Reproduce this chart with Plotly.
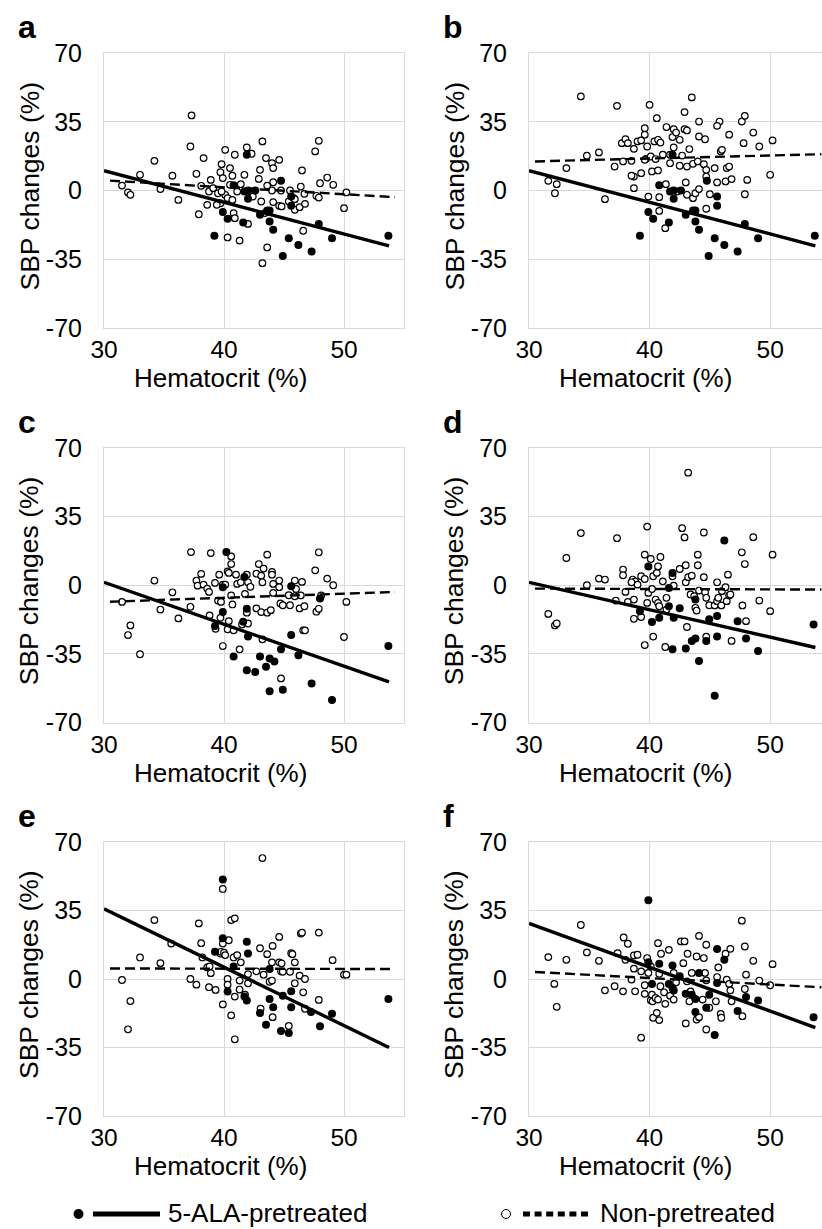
import plotly.graph_objects as go

# ---------------- data: (hematocrit %, SBP change %) ----------------
# Non-pretreated (open circles) and 5-ALA-pretreated (filled circles)

non_a = [(31.5, 2.5), (32.0, -1.0), (32.2, -2.2), (33.0, 8.0), (34.2, 15.1), (34.7, 0.7), (35.7, 7.5),
         (36.2, -4.8), (37.3, 38.2), (37.2, 22.4), (37.7, 8.5), (37.9, -12.1), (38.1, 2.4), (38.3, 16.5),
         (38.6, -7.3), (38.75, -0.5), (38.9, 5.4), (39.1, 1.2), (39.5, -1.4), (39.7, 9.3), (39.8, 13.4),
         (39.7, -6.5), (39.9, 6.3), (40.1, 20.7), (40.1, -2.2), (40.3, -3.9), (40.3, -23.9), (40.5, 11.4),
         (40.7, 7.5), (40.7, -4.8), (40.8, -11.5), (40.9, 18.2), (40.9, -14.1), (41.1, -0.5), (41.3, -25.5),
         (41.4, 3.2), (41.7, 8.0), (41.9, 21.9), (42.0, -17.0), (42.3, 18.7), (42.2, -0.5), (42.4, -3.1),
         (43.0, 10.5), (42.9, 5.9), (43.1, -5.6), (43.2, 25.0), (43.2, -37.0), (43.4, -11.5), (43.6, 2.5),
         (43.5, 16.5), (43.6, -29.0), (44.0, 0.0), (44.0, 13.9), (44.1, 11.4), (44.1, 4.2), (44.1, -5.9),
         (44.6, 15.6), (44.6, -7.8), (44.75, 0.0), (45.5, 0.0), (45.4, -5.6), (45.8, -3.9), (45.9, -9.8),
         (45.9, -4.4), (46.3, -8.5), (46.4, 2.0), (46.5, 10.2), (46.7, -1.7), (46.75, -6.8), (46.6, -20.5),
         (47.6, 19.9), (47.7, -2.7), (47.9, 25.3), (47.9, -3.6), (48.0, 3.7), (48.6, 6.6), (49.1, 2.9),
         (50.0, -9.0), (50.2, -1.0), (39.8, -0.5), (39.4, -7.3), (40.5, 2.9), (44.8, -8.1)]

pre_ab = [(41.9, 18.2), (40.8, 2.7), (41.7, -0.5), (42.0, 0.0), (42.6, 0.0), (42.0, -4.2), (44.75, 4.9),
          (45.6, -3.1), (45.6, -7.8), (39.9, -11.0), (40.3, -14.4), (41.6, -16.3), (43.0, -12.4),
          (43.6, -10.2), (43.8, -10.2), (43.8, -15.8), (44.1, -20.0), (39.2, -23.1), (45.4, -24.3),
          (46.2, -27.8), (47.3, -31.1), (44.9, -33.3), (47.9, -17.0), (49.0, -24.3), (53.7, -23.1)]

non_b = [(31.6, 4.9), (32.3, 3.2), (32.15, -1.4), (33.1, 11.4), (34.3, 47.9), (34.8, 17.7), (35.8, 19.4),
         (36.3, -4.4), (37.1, 12.2), (37.3, 43.1), (37.7, 24.1), (38.0, 26.1), (38.2, 24.1), (37.8, 14.8),
         (38.5, 15.1), (38.7, 21.2), (38.7, 7.1), (38.7, 1.2), (39.0, 25.0), (39.3, 8.8), (39.3, 25.5),
         (39.6, 31.7), (39.6, 28.4), (39.7, 16.1), (39.8, 22.4), (39.9, -3.1), (40.0, 43.6), (40.1, 17.3),
         (40.2, 9.7), (40.4, 25.0), (40.5, 16.0), (40.6, 36.8), (40.7, 25.8), (40.8, -3.4), (40.8, -10.4),
         (40.9, 24.4), (41.1, 18.2), (41.3, -19.2), (41.35, 3.2), (41.4, 32.3), (41.7, 18.2), (41.7, 13.9),
         (41.9, 27.2), (42.0, 31.2), (42.0, 21.9), (42.2, 29.5), (42.3, -0.5), (42.5, 12.6), (42.7, 17.8),
         (42.9, 39.9), (42.9, 31.2), (43.0, 4.1), (43.1, 12.2), (43.1, 30.6), (43.1, -2.2), (43.3, 21.1),
         (43.5, 47.4), (43.6, -3.9), (43.6, 13.6), (43.8, -1.4), (44.0, 14.8), (44.1, 27.5), (44.1, 35.1),
         (44.1, 0.7), (44.5, 13.4), (44.6, 26.1), (44.7, 10.5), (44.7, 7.1), (44.7, -9.3), (45.0, -1.9),
         (45.4, 11.4), (45.6, 4.1), (45.8, 35.1), (45.6, 32.9), (45.9, 19.9), (46.0, 20.7), (46.3, 4.6),
         (46.4, 11.4), (46.6, 12.2), (46.6, 28.4), (46.8, 5.8), (47.65, 35.1), (47.8, 24.1), (47.9, 38.0),
         (47.9, -1.9), (48.1, 5.4), (48.6, 29.5), (49.1, 22.4), (50.0, 8.0), (50.2, 25.5), (38.5, 7.5),
         (42.5, 25.8), (39.6, 15.6), (40.7, 10.2)]

non_c = [(31.5, -8.5), (32.2, -20.5), (32.0, -25.4), (33.0, -35.2), (34.2, 2.4), (34.7, -12.4), (35.7, -3.6),
         (36.2, -16.9), (37.25, 16.9), (37.2, -11.0), (37.7, 2.4), (37.8, -0.2), (38.1, 5.8), (38.3, 0.3),
         (38.6, -1.7), (38.75, -3.4), (38.8, -15.4), (38.9, 16.4), (39.25, 1.2), (39.3, -22.2), (39.5, -7.8),
         (39.6, 5.4), (39.7, -16.6), (39.75, -8.5), (39.9, -31.0), (39.9, 0.3), (40.1, 0.3), (40.3, 7.1),
         (40.3, -22.5), (40.4, -18.3), (40.4, 6.3), (40.6, 14.7), (40.6, 10.8), (40.6, -5.2), (40.7, -9.8),
         (40.8, -23.0), (41.0, 5.4), (41.1, 0.7), (41.3, -32.7), (41.4, 1.5), (41.5, -20.0), (41.75, -4.4),
         (41.9, 5.4), (42.0, -19.5), (42.0, 1.5), (42.2, -0.8), (42.7, 5.9), (42.7, -11.8), (42.9, 10.8),
         (43.1, 4.9), (43.1, -13.7), (43.2, 1.5), (43.2, -27.6), (43.3, 8.5), (43.6, 15.6), (43.6, -14.0),
         (43.9, -12.7), (44.0, 6.8), (44.0, 5.4), (44.1, 0.7), (44.1, -3.9), (44.6, 2.4), (44.6, -1.0),
         (44.7, -9.3), (44.75, -47.5), (44.9, -10.2), (45.5, -10.2), (45.9, 2.4), (45.9, -5.6), (46.0, -1.9),
         (46.3, -11.8), (46.4, -5.2), (46.5, 1.7), (46.6, -23.0), (46.75, -23.0), (46.7, -10.7), (47.6, 7.6),
         (47.7, -13.5), (47.9, 16.8), (47.9, -12.0), (48.1, -5.2), (48.6, 3.4), (49.1, 0.0), (50.0, -26.4),
         (50.2, -8.5), (45.4, -5.1), (41.9, -14.0)]

pre_c = [(40.2, 16.9), (41.7, 4.2), (39.9, -1.0), (45.6, -0.5), (48.0, -6.8), (41.9, -12.0), (39.9, -13.7),
         (41.6, -18.6), (39.25, -20.8), (42.0, -26.2), (45.6, -25.4), (40.8, -36.4), (43.0, -36.4),
         (43.8, -37.4), (44.2, -38.9), (43.5, -41.6), (44.75, -32.7), (46.2, -35.7), (41.9, -43.3),
         (42.6, -44.2), (43.8, -54.1), (44.9, -53.3), (47.3, -50.1), (49.0, -58.5), (53.7, -31.0)]

non_d = [(31.6, -14.6), (32.15, -20.5), (32.3, -19.5), (33.1, 13.9), (34.3, 26.6), (34.8, 0.0), (35.8, 3.4),
         (36.3, 2.9), (37.3, 24.0), (37.2, -7.8), (37.8, 8.0), (37.8, 5.1), (38.0, -3.4), (38.2, -8.5),
         (38.6, 2.9), (38.7, -7.3), (38.7, -17.1), (38.8, 2.0), (39.0, 0.3), (39.3, 4.6), (39.3, -16.2),
         (39.6, 3.2), (39.6, 15.6), (39.6, -30.5), (39.8, -9.0), (39.8, 29.9), (39.9, -3.9), (40.1, 13.4),
         (40.2, -1.9), (40.3, 4.6), (40.3, -26.2), (40.5, -7.3), (40.6, 6.3), (40.7, 9.6), (40.7, -9.0),
         (40.8, -10.7), (40.9, 14.4), (41.1, 2.0), (41.3, -31.5), (41.4, -6.4), (41.4, -12.4), (41.9, 4.6),
         (42.0, -0.2), (42.5, 8.3), (42.7, 29.1), (42.9, 24.4), (43.0, 10.2), (43.0, 1.5), (43.1, -21.3),
         (43.2, 57.4), (43.2, 4.1), (43.4, -4.7), (43.5, 4.9), (43.7, -5.6), (43.8, -11.5), (43.9, -12.9),
         (44.0, 15.6), (44.0, 10.2), (44.1, -2.7), (44.5, 26.9), (44.5, 4.1), (44.6, -3.6), (44.7, -6.4),
         (44.7, -26.2), (44.95, -10.2), (45.4, -10.3), (45.6, 1.5), (45.6, -8.1), (45.7, -6.4), (45.95, -10.3),
         (46.0, -3.0), (46.3, -1.0), (46.4, -8.1), (46.5, 5.4), (46.6, -5.2), (46.7, -4.7), (46.8, -28.4),
         (47.65, 16.8), (47.7, -10.3), (47.9, 10.8), (48.0, -18.3), (48.6, 24.5), (49.1, -7.8), (50.0, -13.2),
         (50.2, 15.6), (38.5, 1.5)]

pre_d = [(39.9, 9.6), (41.9, 6.3), (41.6, -1.4), (43.8, -7.3), (39.2, -13.2), (40.2, -18.8), (40.8, -16.6),
         (41.6, -10.7), (42.5, -11.7), (42.0, -16.6), (44.95, -17.4), (45.6, -15.7), (47.3, -18.3),
         (46.2, 22.8), (43.8, -27.2), (43.5, -28.4), (44.7, -28.4), (45.6, -26.2), (48.0, -27.2),
         (41.9, -32.7), (43.0, -32.3), (49.0, -33.5), (44.1, -38.6), (45.4, -56.3), (53.6, -20.0)]

non_e = [(31.5, -0.5), (32.2, -11.3), (32.0, -25.7), (33.0, 11.0), (34.2, 30.1), (34.7, 8.1), (35.6, 18.1),
         (37.2, 0.0), (37.7, -2.9), (37.9, 28.4), (38.1, 18.3), (38.2, 11.0), (38.6, 5.9), (38.75, -4.2),
         (38.8, 6.4), (38.9, 3.0), (39.3, -5.6), (39.7, 13.0), (39.75, 13.9), (39.9, 46.0), (39.9, 18.1),
         (39.9, -13.0), (40.0, 13.5), (40.1, 12.2), (40.3, 0.0), (40.3, -2.9), (40.4, 19.8), (40.6, 30.1),
         (40.6, -18.6), (40.8, 11.0), (40.9, -30.8), (40.9, 31.0), (40.9, -9.0), (41.1, 12.2), (41.3, -0.8),
         (41.3, -5.4), (41.4, 8.5), (41.75, -8.0), (42.0, 2.5), (42.0, -2.2), (42.7, 3.9), (43.0, 15.7),
         (43.05, -15.2), (43.2, 61.8), (43.3, 2.2), (43.6, 12.7), (43.8, -1.4), (44.0, -0.8), (44.05, 16.9),
         (44.0, 8.5), (44.05, -19.5), (44.6, 21.5), (44.6, 8.5), (44.75, 3.9), (44.9, 3.7), (44.8, 8.0),
         (45.4, -24.0), (45.5, 3.7), (45.6, 13.2), (45.7, 12.7), (45.9, 8.5), (45.9, -2.2), (46.4, 23.2),
         (46.5, 23.7), (46.3, 1.7), (46.6, -6.8), (46.75, 0.0), (46.75, -15.2), (47.9, 23.7), (47.9, -10.7),
         (49.05, 9.6), (50.0, 2.2), (50.2, 2.2)]

pre_e = [(39.9, 50.8), (39.9, 20.8), (39.25, 13.9), (41.9, 19.0), (42.0, 13.0), (40.8, 6.4), (43.8, 5.1),
         (40.3, -6.4), (41.7, -9.0), (41.9, -11.0), (43.8, -10.2), (43.0, -17.4), (44.1, -14.4),
         (43.5, -23.4), (44.9, -8.5), (45.6, -6.3), (45.6, -14.4), (44.75, -26.6), (45.4, -27.6),
         (47.25, -16.9), (48.0, -24.2), (49.0, -17.8), (53.7, -10.2)]

non_f = [(31.6, 11.2), (32.1, -2.5), (32.3, -14.2), (33.1, 9.8), (34.3, 27.6), (34.8, 13.6), (35.8, 9.3),
         (36.3, -5.8), (37.1, -3.7), (37.35, 13.2), (37.8, -6.3), (37.85, 21.2), (38.0, 9.8), (38.2, 18.0),
         (38.5, -0.3), (38.7, 12.0), (38.7, 5.3), (38.8, -6.3), (39.0, 12.4), (39.3, 3.9), (39.3, -30.0),
         (39.6, -3.2), (39.6, -7.6), (39.8, 10.7), (39.9, 3.1), (40.1, 6.4), (40.1, -10.8), (40.2, -8.0),
         (40.25, -11.4), (40.3, -19.8), (40.5, -9.7), (40.6, -17.3), (40.7, -10.5), (40.7, 18.3), (40.8, 2.7),
         (40.8, -21.0), (40.9, -3.7), (40.95, 12.9), (41.2, -6.8), (41.3, -12.7), (41.6, 14.9), (41.7, -8.5),
         (42.0, -10.5), (42.0, 3.1), (42.2, -1.7), (42.6, 19.2), (42.8, 8.1), (42.9, 19.2), (43.0, -22.7),
         (43.1, -1.2), (43.15, 12.9), (43.3, -11.4), (43.4, -6.3), (43.5, 3.1), (43.9, 11.5), (43.9, -20.7),
         (44.1, 22.0), (44.1, -19.5), (44.4, -10.5), (44.5, 10.7), (44.6, 3.1), (44.7, 17.5), (44.7, -25.8),
         (44.7, -0.7), (44.95, -14.7), (45.5, -11.4), (45.6, 1.0), (45.7, 5.9), (45.9, -17.8), (45.95, -19.8),
         (46.3, 12.9), (46.4, -0.3), (46.6, -2.5), (46.7, -5.8), (46.7, 15.4), (46.8, -11.4), (47.65, 29.8),
         (47.7, -19.0), (47.9, 16.6), (48.0, 2.2), (47.9, -5.1), (48.6, 9.3), (49.1, -0.8), (50.0, -3.2),
         (50.2, 7.6)]

pre_f = [(39.9, 40.3), (45.6, 15.3), (46.2, 9.8), (39.9, 8.5), (40.8, 7.8), (41.9, 6.9), (44.1, 3.1),
         (42.5, 1.4), (40.2, -2.5), (41.6, -2.5), (41.9, -4.6), (42.0, -5.9), (45.6, -2.0), (43.0, -7.5),
         (43.5, -8.0), (43.8, -10.2), (44.95, -8.0), (44.7, -14.7), (48.0, -9.2), (49.0, -11.0),
         (43.8, -16.8), (47.3, -16.4), (45.4, -28.6), (53.6, -19.5)]

panel_labels = ["a", "b", "c", "d", "e", "f"]
non_sets = [non_a, non_b, non_c, non_d, non_e, non_f]
pre_sets = [pre_ab, pre_ab, pre_c, pre_d, pre_e, pre_f]

# linear trend lines: SBP = intercept + slope * Hct
pre_slope = [-1.61, -1.61, -2.14, -1.40, -2.985, -2.24]
pre_intercept = [58.4, 58.4, 65.7, 43.5, 125.45, 95.6]
non_slope = [-0.354, 0.155, 0.21, -0.021, -0.0126, -0.33]
non_intercept = [15.8, 10.07, -14.8, -1.06, 5.78, 13.67]
pre_span = [30.0, 53.75]
non_span = [30.5, 54.25]

x_ticks = [30, 40, 50]
y_ticks = [70, 35, 0, -35, -70]
x_title = "Hematocrit (%)"
y_title = "SBP changes (%)"
legend_labels = ["5-ALA-pretreated", "Non-pretreated"]

# ---------------- layout geometry (pixels) ----------------
W, H = 822, 1229
FONT = "Liberation Sans, Arial, sans-serif"
GRID = "#d9d9d9"
col_px = [(104, 404, 55.0), (529, 822, 54.3)]
row_px = [(53, 328), (448, 722.5), (842, 1116)]


def px_x(px):
    return px / W


def px_y(py):
    return 1 - py / H


fig = go.Figure()
layout = dict(
    template="none",
    width=W, height=H, margin=dict(l=0, r=0, t=0, b=0, pad=0, autoexpand=False),
    paper_bgcolor="white", plot_bgcolor="white", showlegend=False,
    font=dict(family=FONT, color="black"),
)
annotations = []
shapes = []

for i, lab in enumerate(panel_labels):
    r, c = divmod(i, 2)
    n = i + 1
    xs = "" if n == 1 else str(n)
    x0p, x1p, xmax = col_px[c]
    y0p, y1p = row_px[r]

    layout["xaxis" + xs] = dict(
        domain=[px_x(x0p), px_x(x1p)], range=[30, xmax], anchor="y" + xs,
        tickvals=x_ticks, ticktext=[str(v) for v in x_ticks],
        showgrid=True, gridcolor=GRID, gridwidth=1,
        showline=True, linecolor=GRID, linewidth=1, mirror=True,
        zeroline=False, ticks="", ticklabelstandoff=0, automargin=False,
        tickfont=dict(family=FONT, size=24.5, color="black"),
    )
    layout["yaxis" + xs] = dict(
        domain=[px_y(y1p), px_y(y0p)], range=[-70, 70], anchor="x" + xs,
        tickvals=y_ticks, ticktext=[str(v) for v in y_ticks],
        showgrid=True, gridcolor=GRID, gridwidth=1,
        showline=True, linecolor=GRID, linewidth=1, mirror=(c == 0),
        zeroline=False, ticks="", ticklabelstandoff=16, automargin=False,
        tickfont=dict(family=FONT, size=25, color="black"),
    )

    nx = [p[0] for p in non_sets[i]]
    ny = [p[1] for p in non_sets[i]]
    px_ = [p[0] for p in pre_sets[i]]
    py_ = [p[1] for p in pre_sets[i]]

    fig.add_trace(go.Scatter(
        x=nx, y=ny, mode="markers", xaxis="x" + xs, yaxis="y" + xs,
        marker=dict(symbol="circle", size=6.6, color="white",
                    line=dict(color="black", width=1.2)),
        hoverinfo="skip"))
    fig.add_trace(go.Scatter(
        x=px_, y=py_, mode="markers", xaxis="x" + xs, yaxis="y" + xs,
        marker=dict(symbol="circle", size=8, color="black", line=dict(width=0)),
        hoverinfo="skip"))

    # trend lines
    fig.add_trace(go.Scatter(
        x=non_span, y=[non_intercept[i] + non_slope[i] * v for v in non_span],
        mode="lines", xaxis="x" + xs, yaxis="y" + xs,
        line=dict(color="black", width=2.4, dash="10px,5px"), hoverinfo="skip"))
    fig.add_trace(go.Scatter(
        x=pre_span, y=[pre_intercept[i] + pre_slope[i] * v for v in pre_span],
        mode="lines", xaxis="x" + xs, yaxis="y" + xs,
        line=dict(color="black", width=3.4), hoverinfo="skip"))

    dom_x = "x" + xs + " domain"
    dom_y = "y" + xs + " domain"
    # panel letter
    annotations.append(dict(
        text="<b>%s</b>" % lab, xref=dom_x, yref=dom_y, x=0, y=1,
        xanchor="left", yanchor="bottom", xshift=-88, yshift=6, showarrow=False,
        font=dict(family=FONT, size=32, color="black")))
    # axis titles
    annotations.append(dict(
        text=y_title, xref=dom_x, yref=dom_y, x=0, y=0.5, textangle=-90,
        xanchor="center", yanchor="middle", xshift=-75, yshift=4, showarrow=False,
        font=dict(family=FONT, size=26.5, color="black")))
    annotations.append(dict(
        text=x_title, xref=dom_x, yref=dom_y, x=0, y=0,
        xanchor="left", yanchor="middle", xshift=28, yshift=-50, showarrow=False,
        font=dict(family=FONT, size=26, color="black")))

# ---------------- legend ----------------
leg_y = 1214
# 5-ALA-pretreated
shapes.append(dict(type="circle", xref="paper", yref="paper",
                   x0=px_x(73.5), x1=px_x(83.5), y0=px_y(leg_y + 5), y1=px_y(leg_y - 5),
                   fillcolor="black", line=dict(color="black", width=0)))
shapes.append(dict(type="line", xref="paper", yref="paper",
                   x0=px_x(93), x1=px_x(160), y0=px_y(leg_y), y1=px_y(leg_y),
                   line=dict(color="black", width=5)))
annotations.append(dict(text=legend_labels[0], xref="paper", yref="paper",
                        x=px_x(166), y=px_y(leg_y - 1), xanchor="left", yanchor="middle",
                        showarrow=False, font=dict(family=FONT, size=26, color="black")))
# Non-pretreated
shapes.append(dict(type="circle", xref="paper", yref="paper",
                   x0=px_x(501.5), x1=px_x(510.5), y0=px_y(leg_y + 4.5), y1=px_y(leg_y - 4.5),
                   fillcolor="white", line=dict(color="black", width=1)))
shapes.append(dict(type="line", xref="paper", yref="paper",
                   x0=px_x(523), x1=px_x(591), y0=px_y(leg_y), y1=px_y(leg_y),
                   line=dict(color="black", width=5, dash="7px,4.6px")))
annotations.append(dict(text=legend_labels[1], xref="paper", yref="paper",
                        x=px_x(598), y=px_y(leg_y - 1), xanchor="left", yanchor="middle",
                        showarrow=False, font=dict(family=FONT, size=26, color="black")))

layout["annotations"] = annotations
layout["shapes"] = shapes
fig.update_layout(**layout)
fig.write_html("out.html")
